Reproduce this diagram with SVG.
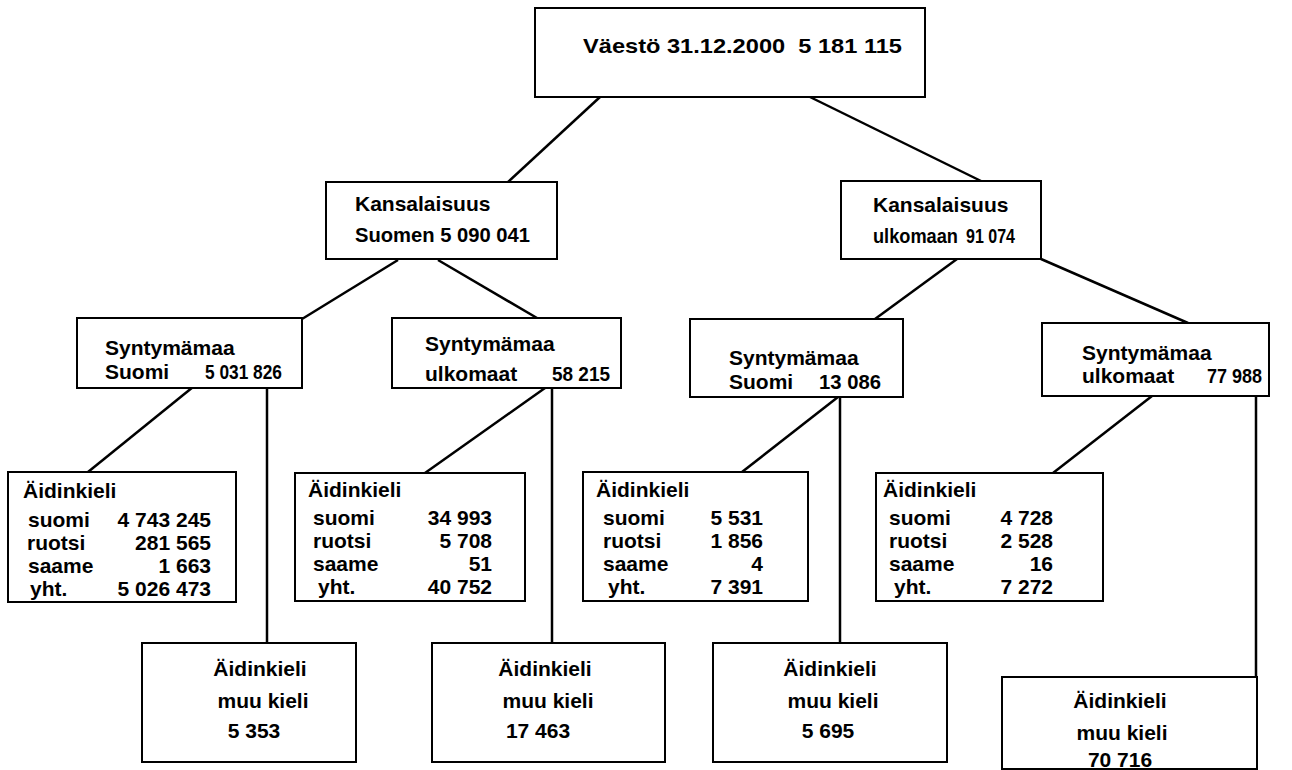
<svg xmlns="http://www.w3.org/2000/svg" width="1292" height="770" viewBox="0 0 1292 770">
<style>
.b{fill:#fff;stroke:#000;stroke-width:2}
.c{stroke:#000;stroke-width:2.5;fill:none}
text{font-family:"Liberation Sans",Arial,sans-serif;font-weight:bold;font-size:21px;fill:#000}
.e{text-anchor:end}
.m{text-anchor:middle}
</style>
<rect width="1292" height="770" fill="#fff"/>
<g id="connectors">
<line class="c" x1="600" y1="97" x2="507" y2="183"/>
<line class="c" x1="810" y1="97" x2="981" y2="181"/>
<line class="c" x1="398" y1="260" x2="302" y2="319"/>
<line class="c" x1="438" y1="260" x2="537" y2="318"/>
<line class="c" x1="957" y1="259" x2="875" y2="319"/>
<line class="c" x1="1041" y1="259" x2="1188" y2="323"/>
<line class="c" x1="193" y1="387" x2="88" y2="472"/>
<line class="c" x1="267" y1="387" x2="267" y2="643"/>
<line class="c" x1="545" y1="388" x2="425" y2="473"/>
<line class="c" x1="552" y1="388" x2="552" y2="643"/>
<line class="c" x1="838" y1="397" x2="742" y2="472"/>
<line class="c" x1="840" y1="397" x2="840" y2="643"/>
<line class="c" x1="1152" y1="396" x2="1053" y2="473"/>
<line class="c" x1="1256" y1="396" x2="1256" y2="677"/>
</g>
<g id="n0">
<rect class="b" x="535" y="8" width="390" height="89"/>
<text x="583" y="53" textLength="319" lengthAdjust="spacingAndGlyphs">Väestö 31.12.2000 &#160;5 181 115</text>
</g>
<g id="n1">
<rect class="b" x="326" y="182" width="231" height="77"/>
<text x="355" y="211">Kansalaisuus</text>
<text x="355" y="242" textLength="175" lengthAdjust="spacingAndGlyphs">Suomen 5 090 041</text>
</g>
<g id="n2">
<rect class="b" x="841" y="181" width="200" height="78"/>
<text x="873" y="212">Kansalaisuus</text>
<text x="873" y="243" textLength="85" lengthAdjust="spacingAndGlyphs">ulkomaan</text>
<text x="966" y="243" textLength="49" lengthAdjust="spacingAndGlyphs">91 074</text>
</g>
<g id="n3">
<rect class="b" x="77" y="318" width="225" height="70"/>
<text x="105" y="355">Syntymämaa</text>
<text x="105" y="379">Suomi</text>
<text x="205" y="379" textLength="77" lengthAdjust="spacingAndGlyphs">5 031 826</text>
</g>
<g id="n4">
<rect class="b" x="392" y="318" width="229" height="70"/>
<text x="425" y="351">Syntymämaa</text>
<text x="425" y="381">ulkomaat</text>
<text x="552" y="381" textLength="58" lengthAdjust="spacingAndGlyphs">58 215</text>
</g>
<g id="n5">
<rect class="b" x="690" y="319" width="213" height="78"/>
<text x="729" y="365">Syntymämaa</text>
<text x="729" y="389">Suomi</text>
<text x="819" y="389" textLength="62" lengthAdjust="spacingAndGlyphs">13 086</text>
</g>
<g id="n6">
<rect class="b" x="1042" y="323" width="227" height="73"/>
<text x="1082" y="360">Syntymämaa</text>
<text x="1082" y="383">ulkomaat</text>
<text x="1207" y="383" textLength="55" lengthAdjust="spacingAndGlyphs">77 988</text>
</g>
<g id="n7">
<rect class="b" x="8" y="472" width="228" height="130"/>
<text x="23" y="498">Äidinkieli</text>
<text x="28" y="527">suomi</text><text class="e" x="211" y="527">4 743 245</text>
<text x="27" y="550">ruotsi</text><text class="e" x="211" y="550">281 565</text>
<text x="28" y="573">saame</text><text class="e" x="211" y="573">1 663</text>
<text x="30" y="596">yht.</text><text class="e" x="211" y="596">5 026 473</text>
</g>
<g id="n8">
<rect class="b" x="295" y="473" width="230" height="128"/>
<text x="308" y="497">Äidinkieli</text>
<text x="313" y="525">suomi</text><text class="e" x="492" y="525">34 993</text>
<text x="313" y="548">ruotsi</text><text class="e" x="492" y="548">5 708</text>
<text x="313" y="571">saame</text><text class="e" x="492" y="571">51</text>
<text x="318" y="594">yht.</text><text class="e" x="492" y="594">40 752</text>
</g>
<g id="n9">
<rect class="b" x="583" y="472" width="225" height="129"/>
<text x="596" y="497">Äidinkieli</text>
<text x="603" y="525">suomi</text><text class="e" x="763" y="525">5 531</text>
<text x="603" y="548">ruotsi</text><text class="e" x="763" y="548">1 856</text>
<text x="603" y="571">saame</text><text class="e" x="763" y="571">4</text>
<text x="608" y="594">yht.</text><text class="e" x="763" y="594">7 391</text>
</g>
<g id="n10">
<rect class="b" x="876" y="473" width="227" height="128"/>
<text x="883" y="497">Äidinkieli</text>
<text x="889" y="525">suomi</text><text class="e" x="1053" y="525">4 728</text>
<text x="889" y="548">ruotsi</text><text class="e" x="1053" y="548">2 528</text>
<text x="889" y="571">saame</text><text class="e" x="1053" y="571">16</text>
<text x="894" y="594">yht.</text><text class="e" x="1053" y="594">7 272</text>
</g>
<g id="n11">
<rect class="b" x="142" y="643" width="214" height="119"/>
<text class="m" x="260" y="676">Äidinkieli</text>
<text class="m" x="263" y="708">muu kieli</text>
<text class="m" x="254" y="738">5 353</text>
</g>
<g id="n12">
<rect class="b" x="432" y="643" width="233" height="119"/>
<text class="m" x="545" y="676">Äidinkieli</text>
<text class="m" x="548" y="708">muu kieli</text>
<text class="m" x="538" y="738">17 463</text>
</g>
<g id="n13">
<rect class="b" x="713" y="643" width="234" height="119"/>
<text class="m" x="830" y="676">Äidinkieli</text>
<text class="m" x="833" y="708">muu kieli</text>
<text class="m" x="828" y="738">5 695</text>
</g>
<g id="n14">
<rect class="b" x="1002" y="677" width="255" height="92"/>
<text class="m" x="1120" y="708">Äidinkieli</text>
<text class="m" x="1122" y="740">muu kieli</text>
<text class="m" x="1120" y="767">70 716</text>
</g>
</svg>
